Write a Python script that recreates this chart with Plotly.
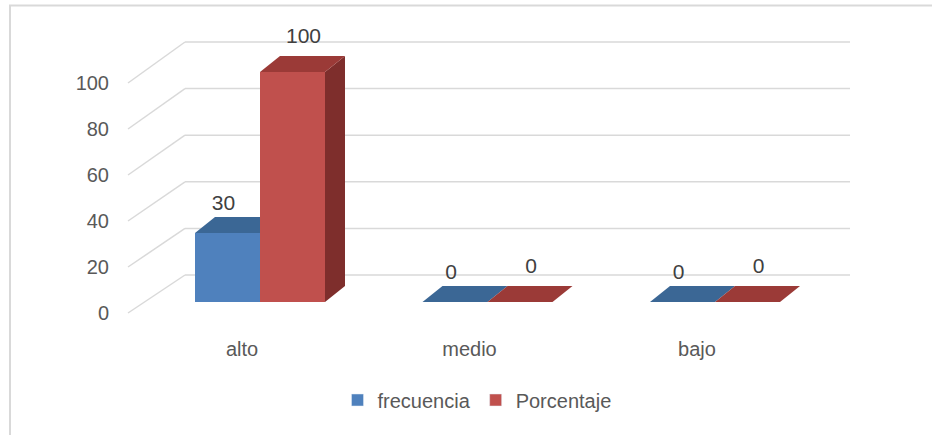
import plotly.graph_objects as go

# ---------------- data ----------------
categories = ["alto", "medio", "bajo"]
series_names = ["frecuencia", "Porcentaje"]
frecuencia = [30, 0, 0]
porcentaje = [100, 0, 0]
y_ticks = [0, 20, 40, 60, 80, 100]

# ---------------- layout geometry (pixels) ----------------
W, H = 932, 435
ML, MR, MT, MB = 110, 0, 0, 100
PX = 2.3          # pixels per value unit
Y0 = 313          # pixel row of the front-wall zero level


def u(px):
    """pixel distance -> value units"""
    return px / PX


cat_x = [260, 487.5, 715]     # centre of each category group (x axis units = pixels)
bar_w = 65
base = u(Y0 - 302)            # bars stand a little behind the front wall
dep_dx, dep_dy = 20, u(16)    # 3D depth of a bar
wall_x0, wall_x1, wall_x2 = 128, 185, 850
wall_dy = u(38)
back_scale = 1.013
label_shift = -18             # category labels sit on the front wall

FONT = "Liberation Sans Narrow, Arial Narrow, Liberation Sans, Arial, sans-serif"
FS = 20
GRID = "#d9d9d9"

styles = {
    "frecuencia": dict(front="#4f81bd", top="#3b6795", side="#2f5279", off=-1, tdx=-4, tdy=28),
    "Porcentaje": dict(front="#c0504d", top="#9b3a37", side="#7e2e2c", off=1, tdx=11, tdy=34),
}
values = {"frecuencia": frecuencia, "Porcentaje": porcentaje}

fig = go.Figure()

# back wall + diagonal gridlines
for v in y_ticks:
    yb = v * back_scale + wall_dy
    fig.add_shape(type="line", xref="x", yref="y", x0=wall_x0, y0=v, x1=wall_x1, y1=yb,
                  line=dict(color=GRID, width=1.5), layer="below")
    fig.add_shape(type="line", xref="x", yref="y", x0=wall_x1, y0=yb, x1=wall_x2, y1=yb,
                  line=dict(color=GRID, width=1.5), layer="below")

# bars as 3D faces
for name in series_names:
    st = styles[name]
    vals = values[name]
    polys = {"side": ([], []), "top": ([], []), "front": ([], [])}
    for cx, v in zip(cat_x, vals):
        xc = cx + st["off"] * bar_w / 2
        x0, x1 = xc - bar_w / 2, xc + bar_w / 2
        b, t = base, base + v
        faces = {
            "side": ([x1, x1 + dep_dx, x1 + dep_dx, x1, x1],
                     [b, b + dep_dy, t + dep_dy, t, b]),
            "top": ([x0, x1, x1 + dep_dx, x0 + dep_dx, x0],
                    [t, t, t + dep_dy, t + dep_dy, t]),
            "front": ([x0, x1, x1, x0, x0], [b, b, t, t, b]),
        }
        for k, (fx, fy) in faces.items():
            polys[k][0].extend(fx + [None])
            polys[k][1].extend(fy + [None])
    for k in ["side", "top", "front"]:
        fig.add_trace(go.Scatter(
            x=polys[k][0], y=polys[k][1], mode="lines", fill="toself",
            fillcolor=st[k], line=dict(width=0, color=st[k]),
            hoverinfo="skip", showlegend=False))

# value labels
for name in series_names:
    st = styles[name]
    vals = values[name]
    xs = [cx + st["off"] * bar_w / 2 + st["tdx"] for cx in cat_x]
    ys = [base + v + u(st["tdy"]) for v in vals]
    fig.add_trace(go.Scatter(
        x=xs, y=ys, mode="text", text=[str(v) for v in vals],
        textposition="middle center",
        textfont=dict(family=FONT, size=FS + 1, color="#404040"),
        hoverinfo="skip", showlegend=False))

# legend carriers
for name in series_names:
    fig.add_trace(go.Bar(x=[None], y=[None], name=name,
                         marker=dict(color=styles[name]["front"])))

plot_bottom = H - MB
fig.update_layout(
    width=W, height=H,
    margin=dict(l=ML, r=MR, t=MT, b=MB, pad=0),
    paper_bgcolor="white", plot_bgcolor="white",
    font=dict(family=FONT, size=FS, color="#595959"),
    xaxis=dict(range=[ML, W - MR], showgrid=False, zeroline=False, showline=False,
               tickvals=[c + label_shift for c in cat_x], ticktext=categories,
               ticks="", tickfont=dict(size=FS, color="#595959"), fixedrange=True),
    yaxis=dict(range=[(Y0 - plot_bottom) / PX, (Y0 - MT) / PX], showgrid=False,
               zeroline=False, showline=False, tickvals=y_ticks,
               ticktext=[str(t) for t in y_ticks], ticks="",
               tickfont=dict(size=FS, color="#595959"), fixedrange=True),
    showlegend=True,
    legend=dict(orientation="h", x=(477 - ML) / (W - ML - MR), xanchor="center",
                y=(plot_bottom - 400) / plot_bottom, yanchor="middle",
                font=dict(size=FS, color="#595959"), bgcolor="rgba(0,0,0,0)"),
    shapes=list(fig.layout.shapes) + [
        dict(type="rect", xref="paper", yref="paper",
             x0=(10 - ML) / (W - ML - MR), x1=(W + 5 - ML) / (W - ML - MR),
             y0=(plot_bottom - 5.5) / plot_bottom, y1=(plot_bottom - H - 5) / plot_bottom,
             line=dict(color="#d9d9d9", width=2), fillcolor="rgba(0,0,0,0)", layer="below")
    ],
)

fig.write_html("out.html")
